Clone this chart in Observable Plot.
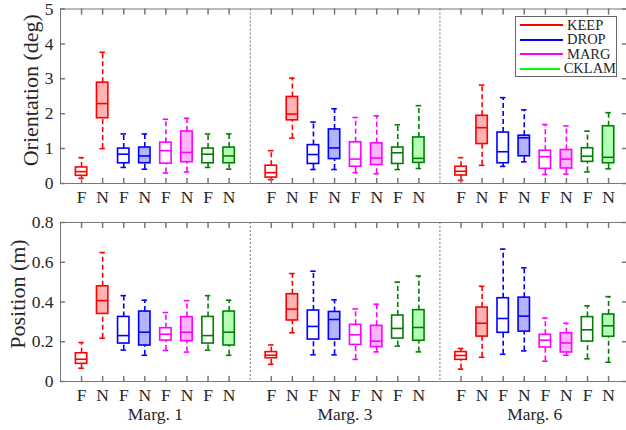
<!DOCTYPE html>
<html>
<head>
<meta charset="utf-8">
<script src="https://cdn.jsdelivr.net/npm/d3@7"></script>
<script src="https://cdn.jsdelivr.net/npm/@observablehq/plot@0.6"></script>
<style>
  html, body { margin: 0; padding: 0; background: white; }
  #wrap { position: relative; width: 626px; height: 430px; overflow: hidden; }
  #legend { position: absolute; left: 515px; top: 16px; width: 102px; height: 61px;
    border: 1px solid #666; background: white; font-family: "Liberation Serif", serif;
    font-size: 14.5px; color: #262626; box-sizing: border-box; padding-top: 1px; }
  .lrow { display: flex; align-items: center; height: 14.5px; }
  .lline { width: 43px; height: 2px; margin-left: 4px; margin-right: 4px; }
</style>
</head>
<body>
<div id="wrap"><div id="legend"></div></div>
<script>
// ---- data ----
const groups = ["Marg. 1", "Marg. 3", "Marg. 6"];
const methods = ["KEEP", "DROP", "MARG", "CKLAM"];
const conds = ["F", "N"];
const methodStroke = ["#ff0000", "#0000ff", "#ff00ff", "#008000"];
const methodFill = ["#ffb3b3", "#b3b3ff", "#ffb3ff", "#b3ffb3"];
const legendColor = ["#ff0000", "#0000ff", "#ff00ff", "#00ff00"];

// [whisker low, q1, median, q3, whisker high], order: group -> method -> F,N
const orientStats = [
  // Marg. 1
  [0.15, 0.22, 0.34, 0.46, 0.74], [1.00, 1.87, 2.29, 2.89, 3.76],
  [0.46, 0.58, 0.84, 1.00, 1.42], [0.41, 0.58, 0.79, 1.03, 1.42],
  [0.30, 0.57, 0.94, 1.17, 1.84], [0.33, 0.61, 0.89, 1.49, 1.87],
  [0.46, 0.58, 0.84, 1.00, 1.42], [0.41, 0.58, 0.79, 1.03, 1.42],
  // Marg. 3
  [0.11, 0.17, 0.31, 0.51, 0.94], [1.30, 1.81, 1.99, 2.48, 3.02],
  [0.40, 0.56, 0.83, 1.10, 1.76], [0.40, 0.70, 1.02, 1.55, 2.14],
  [0.31, 0.48, 0.70, 1.18, 1.89], [0.28, 0.53, 0.73, 1.15, 1.94],
  [0.40, 0.56, 0.88, 1.03, 1.68], [0.43, 0.59, 0.72, 1.32, 2.23],
  // Marg. 6
  [0.09, 0.23, 0.35, 0.48, 0.74], [0.52, 1.13, 1.60, 1.94, 2.82],
  [0.49, 0.58, 0.91, 1.46, 2.46], [0.62, 0.78, 1.31, 1.37, 2.11],
  [0.26, 0.42, 0.77, 0.94, 1.69], [0.27, 0.43, 0.70, 0.96, 1.65],
  [0.33, 0.62, 0.78, 1.01, 1.50], [0.42, 0.58, 0.75, 1.64, 2.03]
];
const positionStats = [
  // Marg. 1
  [0.067, 0.089, 0.112, 0.142, 0.196], [0.218, 0.340, 0.407, 0.479, 0.649],
  [0.158, 0.191, 0.231, 0.325, 0.432], [0.132, 0.181, 0.248, 0.352, 0.409],
  [0.156, 0.206, 0.238, 0.268, 0.347], [0.148, 0.203, 0.248, 0.324, 0.407],
  [0.158, 0.191, 0.231, 0.325, 0.432], [0.132, 0.181, 0.248, 0.352, 0.409],
  // Marg. 3
  [0.087, 0.117, 0.132, 0.148, 0.184], [0.245, 0.307, 0.364, 0.439, 0.543],
  [0.134, 0.211, 0.277, 0.357, 0.555], [0.134, 0.211, 0.312, 0.350, 0.411],
  [0.111, 0.184, 0.235, 0.285, 0.365], [0.149, 0.173, 0.203, 0.280, 0.389],
  [0.178, 0.216, 0.267, 0.332, 0.500], [0.149, 0.205, 0.272, 0.359, 0.531],
  // Marg. 6
  [0.062, 0.109, 0.131, 0.148, 0.166], [0.122, 0.226, 0.293, 0.372, 0.479],
  [0.137, 0.245, 0.317, 0.419, 0.666], [0.154, 0.251, 0.329, 0.422, 0.572],
  [0.102, 0.171, 0.208, 0.235, 0.319], [0.132, 0.146, 0.194, 0.243, 0.293],
  [0.114, 0.201, 0.260, 0.324, 0.381], [0.097, 0.225, 0.280, 0.337, 0.427]
];
const orientTicks = [0, 1, 2, 3, 4, 5];
const positionTicks = [0, 0.2, 0.4, 0.6, 0.8];

// ---- build ----
function rowsFrom(stats) {
  const rows = [];
  groups.forEach((g, gi) => methods.forEach((m, mi) => conds.forEach((c, ci) => {
    const s = stats[gi * 8 + mi * 2 + ci];
    rows.push({x: gi * 9 + mi * 2 + ci + 1, group: g, mi, cond: c,
      lo: s[0], q1: s[1], med: s[2], q3: s[3], hi: s[4]});
  })));
  return rows;
}
const tickShape = {draw(ctx, l) { ctx.moveTo(0, 0); ctx.lineTo(0, -l); }};
const FONT = "Liberation Serif";
const AX = "#777";
const TXT = "#262626";
const bw = 0.27, cw = 0.13;

function panel({stats, yDomain, yTicks, yLabel, labelDx, labelDy, height, marginTop, marginBottom, showGroups}) {
  const rows = rowsFrom(stats);
  const xs = rows.map(d => d.x);
  const stroke = d => methodStroke[d.mi];
  const marks = [
    Plot.ruleX([9, 18], {stroke: AX, strokeDasharray: "2,2", strokeWidth: 1}),
    Plot.frame({stroke: AX, strokeWidth: 1}),
    // whiskers
    Plot.ruleX(rows, {x: "x", y1: "q3", y2: "hi", stroke, strokeWidth: 1.6, strokeDasharray: "5,3"}),
    Plot.ruleX(rows, {x: "x", y1: "lo", y2: "q1", stroke, strokeWidth: 1.6, strokeDasharray: "5,3"}),
    Plot.ruleY(rows, {y: "hi", x1: d => d.x - cw, x2: d => d.x + cw, stroke, strokeWidth: 1.6}),
    Plot.ruleY(rows, {y: "lo", x1: d => d.x - cw, x2: d => d.x + cw, stroke, strokeWidth: 1.6}),
    // boxes
    Plot.rect(rows, {x1: d => d.x - bw, x2: d => d.x + bw, y1: "q1", y2: "q3",
      fill: d => d.cond === "N" ? methodFill[d.mi] : "white", stroke, strokeWidth: 1.6}),
    Plot.ruleY(rows, {y: "med", x1: d => d.x - bw, x2: d => d.x + bw, stroke, strokeWidth: 1.6}),
    // inward ticks
    Plot.vector(xs, {x: d => d, frameAnchor: "top", length: 5, rotate: 180, anchor: "start", shape: tickShape, stroke: AX}),
    Plot.vector(xs, {x: d => d, frameAnchor: "bottom", length: 5, rotate: 0, anchor: "start", shape: tickShape, stroke: AX}),
    Plot.vector(yTicks, {y: d => d, frameAnchor: "left", length: 4, rotate: 90, anchor: "start", shape: tickShape, stroke: AX}),
    Plot.vector(yTicks, {y: d => d, frameAnchor: "right", length: 4, rotate: -90, anchor: "start", shape: tickShape, stroke: AX}),
    // tick labels
    Plot.axisY({ticks: yTicks, tickSize: 0, tickPadding: 7, label: null, tickFormat: d => String(d),
      fontFamily: FONT, fontSize: 17.5, fill: TXT}),
    Plot.axisX({ticks: xs, tickSize: 0, tickPadding: 7, label: null,
      tickFormat: d => conds[(d - 1) % 9 % 2], fontFamily: FONT, fontSize: 17.5, fill: TXT}),
    Plot.text([yLabel], {frameAnchor: "left", dx: labelDx, dy: labelDy, rotate: -90,
      textAnchor: "middle", lineAnchor: "middle", fontFamily: FONT, fontSize: 22, fill: TXT})
  ];
  if (showGroups) {
    marks.push(Plot.axisX({ticks: groups.map((g, i) => i * 9 + 4.5), tickSize: 0, tickPadding: 26, label: null,
      tickFormat: d => groups[Math.round((d - 4.5) / 9)], fontFamily: FONT, fontSize: 17.5, fill: TXT}));
  }
  return Plot.plot({
    width: 626, height, marginLeft: 60, marginRight: 0, marginTop, marginBottom,
    style: {fontFamily: FONT, background: "white", overflow: "visible"},
    x: {domain: [0, 26.85]},
    y: {domain: yDomain},
    marks
  });
}

const wrap = document.getElementById("wrap");
const topPanel = panel({stats: orientStats, yDomain: [0, 5], yTicks: orientTicks, yLabel: "Orientation (deg)",
  labelDx: -30, labelDy: -6, height: 210, marginTop: 8.5, marginBottom: 27, showGroups: false});
const botPanel = panel({stats: positionStats, yDomain: [0, 0.8], yTicks: positionTicks, yLabel: "Position (m)",
  labelDx: -43, labelDy: -8, height: 220, marginTop: 12, marginBottom: 49, showGroups: true});
topPanel.style.display = "block"; botPanel.style.display = "block";
wrap.insertBefore(botPanel, wrap.firstChild);
wrap.insertBefore(topPanel, wrap.firstChild);

const legend = document.getElementById("legend");
methods.forEach((m, i) => {
  const row = document.createElement("div");
  row.className = "lrow";
  const line = document.createElement("div");
  line.className = "lline";
  line.style.background = legendColor[i];
  const t = document.createElement("span");
  t.textContent = m;
  row.appendChild(line); row.appendChild(t);
  legend.appendChild(row);
});
</script>
</body>
</html>
